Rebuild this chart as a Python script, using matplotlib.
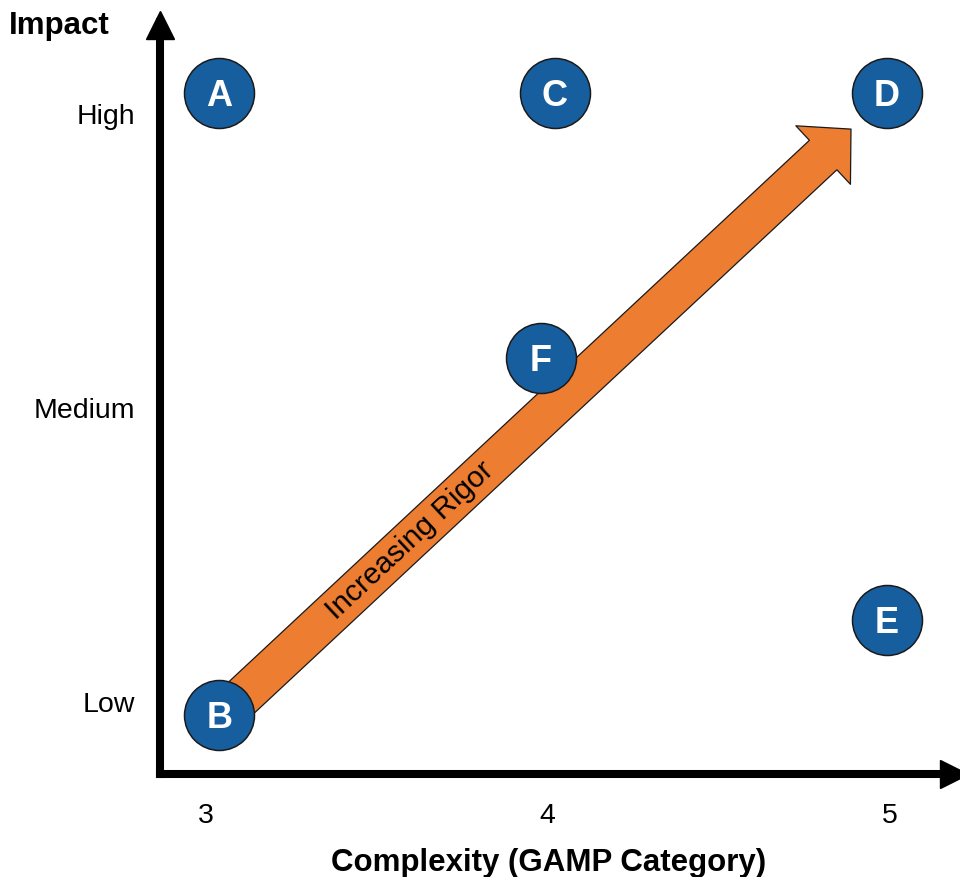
import numpy as np
import matplotlib
matplotlib.use("Agg")
import matplotlib.pyplot as plt
from matplotlib import transforms
from matplotlib.patches import FancyArrowPatch, ArrowStyle

# data
labels = ['A', 'B', 'C', 'D', 'E', 'F']
complexity = [3.04, 3.04, 4.02, 4.99, 4.99, 3.98]
impact = [3.07, 0.955, 3.07, 3.07, 1.28, 2.17]
x_ticks = [3, 4, 5]
y_ticks = [1, 2, 3]
y_tick_labels = ['Low', 'Medium', 'High']
rigor_start = (3.045, 0.95)
rigor_end = (4.886, 2.947)
rigor_label = 'Increasing Rigor'

BLUE = '#175E9E'
ORANGE = '#ED7D31'
EDGE = '#1a1a1a'

plt.rcParams['font.family'] = ['Liberation Sans', 'DejaVu Sans']

W, H = 960, 877
fig = plt.figure(figsize=(W / 100, H / 100), dpi=100)
ax = fig.add_axes([159.5 / W, 103 / H, (W - 159.5) / W, 763 / H])
ax.set_xlim(2.8656, 5.2045)
ax.set_ylim(0.7553, 3.3484)
for s in ax.spines.values():
    s.set_visible(False)

ax.set_xticks(x_ticks, [str(t) for t in x_ticks])
ax.set_yticks(y_ticks, y_tick_labels)
ax.tick_params(length=0, labelsize=20.5)
ax.tick_params(axis='x', pad=21)
ax.tick_params(axis='y', pad=17.5)

# axis lines with arrow heads
lw = 5.8
ax.plot([0, 0], [0, 0.985], color='k', lw=lw, transform=ax.transAxes,
        clip_on=False, solid_capstyle='projecting')
ax.plot([0, 1], [0, 0], color='k', lw=lw, transform=ax.transAxes,
        clip_on=False, solid_capstyle='projecting')
head_y = transforms.offset_copy(ax.transAxes, fig=fig, y=-14, units='dots')
head_x = transforms.offset_copy(ax.transAxes, fig=fig, x=-6, units='dots')
ax.plot([0], [1], marker='^', ms=20, color='k', transform=head_y, clip_on=False)
ax.plot([1], [0], marker='>', ms=20, color='k', transform=head_x, clip_on=False)

# orange arrow
style = ArrowStyle('Simple', head_length=27.4, head_width=57.6, tail_width=29)
arrow = FancyArrowPatch(rigor_start, rigor_end, arrowstyle=style, mutation_scale=1,
                        shrinkA=0, shrinkB=0, fc=ORANGE, ec=EDGE, lw=0.9, zorder=2)
ax.add_patch(arrow)

dx = rigor_end[0] - rigor_start[0]
dy = rigor_end[1] - rigor_start[1]
ang = np.degrees(np.arctan2(dy, dx))
ax.text(rigor_start[0] + 0.30 * dx, rigor_start[1] + 0.30 * dy, rigor_label,
        rotation=ang, transform_rotates_text=True, rotation_mode='anchor',
        ha='center', va='center', fontsize=21.5, zorder=3)

# circles
ax.scatter(complexity, impact, s=2540, c=BLUE, edgecolors=EDGE, linewidths=1.1,
           zorder=4, clip_on=False)
for lab, x, y in zip(labels, complexity, impact):
    ax.annotate(lab, (x, y), xytext=(0, -0.358 * 26), textcoords='offset points',
                ha='center', va='baseline', color='white', fontsize=26,
                fontweight='bold', zorder=5)

fig.text(9 / W, 1 - 34 / H, 'Impact', fontsize=22.5, fontweight='bold',
         ha='left', va='baseline')
fig.text(549 / W, 1 - 871 / H, 'Complexity (GAMP Category)', fontsize=22.5,
         fontweight='bold', ha='center', va='baseline')

fig.savefig('out.png', dpi=100)
